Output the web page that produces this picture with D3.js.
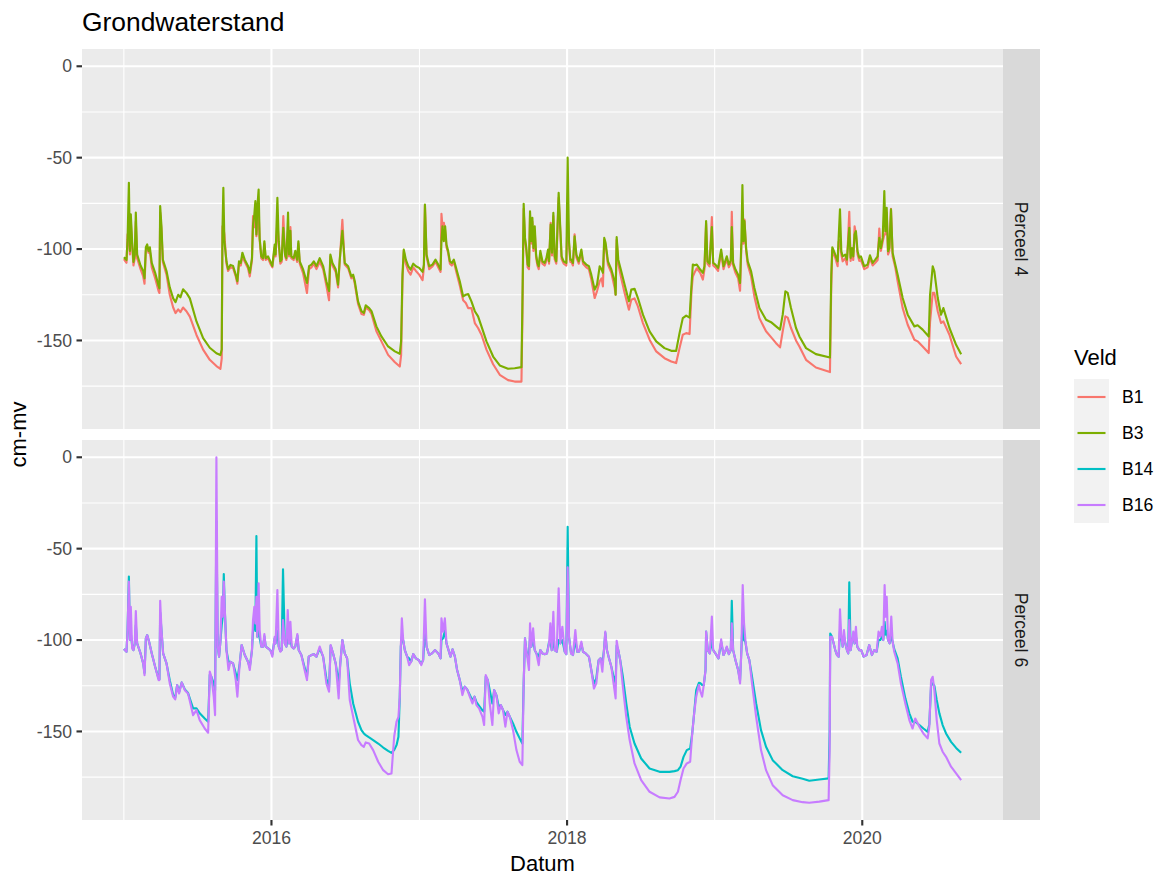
<!DOCTYPE html>
<html>
<head>
<meta charset="utf-8">
<script src="https://cdn.jsdelivr.net/npm/d3@7"></script>
<style>
  body { margin: 0; background: #ffffff; }
  svg { display: block; }
  text { font-family: "Liberation Sans", Arial, Helvetica, sans-serif; }
</style>
</head>
<body>
<svg id="chart" width="1161" height="876"></svg>
<script>
// Grondwaterstand (cm-mv) per veld, datum as decimal year
const b1 = [[2015.000,-105.5],[2015.018,-107.5],[2015.025,-92],[2015.034,-95],[2015.041,-103],[2015.047,-85],[2015.056,-98],[2015.065,-109],[2015.074,-105],[2015.081,-85],[2015.090,-105],[2015.113,-111],[2015.131,-115],[2015.140,-119],[2015.149,-101],[2015.158,-99],[2015.167,-102],[2015.176,-101],[2015.189,-110],[2015.212,-116],[2015.235,-123],[2015.241,-124],[2015.246,-80],[2015.255,-90],[2015.264,-107],[2015.289,-114],[2015.311,-125],[2015.334,-132],[2015.350,-135],[2015.368,-133],[2015.383,-134.5],[2015.401,-132],[2015.424,-134],[2015.447,-137],[2015.492,-147],[2015.537,-155],[2015.582,-160.6],[2015.627,-164],[2015.654,-165.5],[2015.663,-160],[2015.668,-87.5],[2015.674,-88],[2015.681,-92],[2015.695,-108],[2015.706,-112],[2015.722,-110],[2015.740,-110.5],[2015.758,-115],[2015.769,-119],[2015.780,-108],[2015.792,-109],[2015.803,-104],[2015.819,-107],[2015.841,-110.5],[2015.853,-115],[2015.868,-106],[2015.875,-82],[2015.884,-88],[2015.891,-80],[2015.898,-93],[2015.904,-88],[2015.913,-80],[2015.920,-95],[2015.931,-105],[2015.943,-106],[2015.952,-97],[2015.961,-106],[2015.977,-105],[2015.992,-108],[2016.006,-110],[2016.022,-99],[2016.028,-104],[2016.040,-85],[2016.049,-97],[2016.060,-108],[2016.069,-107],[2016.080,-82],[2016.092,-104],[2016.101,-106],[2016.112,-90],[2016.119,-104],[2016.128,-88],[2016.134,-105],[2016.150,-106],[2016.161,-102],[2016.173,-107],[2016.182,-97],[2016.191,-108],[2016.213,-113],[2016.240,-124],[2016.254,-111],[2016.270,-110],[2016.286,-108],[2016.304,-111],[2016.326,-107],[2016.349,-111],[2016.371,-120],[2016.389,-128],[2016.398,-104],[2016.412,-109],[2016.434,-112.5],[2016.450,-121],[2016.461,-107],[2016.479,-84],[2016.495,-108.5],[2016.518,-110.5],[2016.540,-116],[2016.552,-115],[2016.563,-119],[2016.585,-130],[2016.608,-135.5],[2016.624,-136],[2016.637,-132],[2016.660,-133.5],[2016.676,-135.5],[2016.709,-145],[2016.743,-150.5],[2016.788,-157.9],[2016.834,-161.9],[2016.867,-164.3],[2016.876,-158],[2016.885,-118],[2016.894,-101],[2016.908,-108],[2016.924,-112],[2016.940,-114],[2016.958,-110],[2016.976,-112],[2016.998,-114],[2017.021,-117],[2017.030,-110],[2017.037,-76],[2017.048,-104],[2017.066,-111],[2017.088,-109.5],[2017.109,-107],[2017.127,-110],[2017.143,-112.5],[2017.149,-80.7],[2017.156,-88],[2017.165,-85.6],[2017.174,-90],[2017.183,-99],[2017.194,-102],[2017.206,-108],[2017.219,-109],[2017.233,-107],[2017.251,-113],[2017.273,-120],[2017.296,-128],[2017.314,-129.5],[2017.330,-132.3],[2017.352,-132.3],[2017.375,-140.5],[2017.397,-143.2],[2017.420,-146.9],[2017.454,-155],[2017.499,-163],[2017.544,-168.8],[2017.600,-171.7],[2017.645,-172.5],[2017.691,-172.5],[2017.697,-140],[2017.706,-78],[2017.715,-95],[2017.724,-101],[2017.733,-110],[2017.742,-111],[2017.749,-82],[2017.758,-97],[2017.765,-85],[2017.772,-101],[2017.781,-90],[2017.790,-104.5],[2017.799,-109],[2017.808,-111],[2017.819,-102.5],[2017.833,-108],[2017.848,-109],[2017.860,-106.5],[2017.871,-102],[2017.878,-108],[2017.889,-85.6],[2017.898,-103.5],[2017.907,-82],[2017.916,-105.5],[2017.927,-108],[2017.943,-72],[2017.954,-90],[2017.963,-105.5],[2017.977,-108],[2017.995,-109],[2018.004,-80],[2018.013,-97],[2018.022,-107],[2018.029,-107],[2018.040,-109],[2018.051,-92],[2018.063,-104.5],[2018.079,-108],[2018.097,-101.5],[2018.108,-108],[2018.130,-110],[2018.148,-111],[2018.164,-116.5],[2018.187,-126.8],[2018.203,-123],[2018.221,-117.6],[2018.234,-116],[2018.243,-120.4],[2018.252,-95],[2018.261,-98],[2018.277,-108.5],[2018.300,-113],[2018.322,-121],[2018.329,-125],[2018.336,-95],[2018.347,-108],[2018.367,-116],[2018.390,-124],[2018.419,-133.2],[2018.435,-127.7],[2018.457,-127],[2018.480,-131.4],[2018.514,-140.5],[2018.559,-149.6],[2018.604,-156],[2018.660,-159.7],[2018.706,-161.5],[2018.739,-162.4],[2018.762,-154.2],[2018.784,-146.9],[2018.807,-146],[2018.830,-146.5],[2018.843,-123.1],[2018.852,-115],[2018.863,-113],[2018.879,-110.5],[2018.902,-113],[2018.920,-116.7],[2018.931,-111],[2018.942,-86],[2018.951,-108],[2018.965,-109.5],[2018.981,-82.5],[2018.990,-109],[2019.005,-110],[2019.023,-112],[2019.044,-102],[2019.060,-111],[2019.071,-108],[2019.082,-106],[2019.096,-110],[2019.109,-108],[2019.116,-79.6],[2019.125,-109],[2019.141,-113],[2019.159,-116],[2019.172,-122.8],[2019.181,-98],[2019.188,-96],[2019.195,-97],[2019.202,-83.8],[2019.213,-101],[2019.224,-108.5],[2019.247,-115],[2019.269,-125.9],[2019.303,-137.8],[2019.348,-145],[2019.382,-148.2],[2019.416,-151.5],[2019.443,-153.8],[2019.461,-145],[2019.479,-136.8],[2019.495,-137.5],[2019.517,-143.2],[2019.551,-150],[2019.574,-153.3],[2019.619,-160.6],[2019.686,-164.8],[2019.781,-167.3],[2019.790,-120],[2019.797,-100.5],[2019.808,-103],[2019.817,-104.8],[2019.833,-109.4],[2019.840,-96],[2019.849,-95],[2019.858,-103],[2019.867,-106.7],[2019.885,-105],[2019.896,-108.5],[2019.912,-79.6],[2019.921,-106.5],[2019.930,-101],[2019.939,-106],[2019.948,-87.5],[2019.957,-92],[2019.968,-103],[2019.980,-106.5],[2019.991,-106],[2020.013,-111],[2020.036,-110],[2020.052,-105],[2020.070,-109],[2020.088,-107.5],[2020.104,-106],[2020.115,-88.8],[2020.126,-101],[2020.138,-96],[2020.149,-92],[2020.156,-92],[2020.165,-80],[2020.174,-103],[2020.183,-101],[2020.194,-78],[2020.205,-104],[2020.223,-110],[2020.239,-117.6],[2020.273,-132.3],[2020.307,-141.4],[2020.352,-149.6],[2020.374,-150.5],[2020.408,-153.3],[2020.449,-156.9],[2020.458,-140],[2020.476,-124],[2020.487,-124],[2020.510,-134],[2020.532,-140.5],[2020.548,-139.6],[2020.589,-146.9],[2020.634,-158.8],[2020.668,-163]];

const b3 = [[2015.000,-104.5],[2015.018,-106],[2015.025,-95],[2015.034,-63.7],[2015.041,-101],[2015.047,-81],[2015.056,-96],[2015.065,-107],[2015.074,-103],[2015.081,-80],[2015.090,-103],[2015.113,-109],[2015.131,-112],[2015.140,-116],[2015.149,-99],[2015.158,-97.5],[2015.167,-101],[2015.176,-99],[2015.189,-107.6],[2015.212,-113],[2015.235,-120],[2015.241,-121.5],[2015.246,-76.5],[2015.255,-88],[2015.264,-105.8],[2015.289,-112],[2015.311,-121],[2015.334,-127],[2015.350,-129],[2015.368,-125],[2015.383,-126.4],[2015.401,-122],[2015.424,-124],[2015.447,-127],[2015.492,-139.6],[2015.537,-148.7],[2015.582,-154],[2015.627,-157],[2015.654,-158],[2015.663,-155],[2015.668,-90],[2015.674,-66.5],[2015.681,-95.7],[2015.695,-106.7],[2015.706,-111],[2015.722,-108.7],[2015.740,-109.3],[2015.758,-114],[2015.769,-117.6],[2015.780,-106.7],[2015.792,-107.6],[2015.803,-102],[2015.819,-105.8],[2015.841,-109.3],[2015.853,-113],[2015.868,-105],[2015.875,-86.6],[2015.884,-81],[2015.891,-73.8],[2015.898,-92],[2015.904,-77.5],[2015.913,-67.4],[2015.920,-94],[2015.931,-104],[2015.943,-105],[2015.952,-95.7],[2015.961,-105],[2015.977,-104],[2015.992,-106.7],[2016.006,-109.3],[2016.022,-97.5],[2016.028,-103],[2016.040,-71.9],[2016.049,-95.7],[2016.060,-106.7],[2016.069,-105.8],[2016.080,-88.4],[2016.092,-103],[2016.101,-105],[2016.112,-80],[2016.119,-103],[2016.128,-90],[2016.134,-104],[2016.150,-105],[2016.161,-101],[2016.173,-105.8],[2016.182,-95.7],[2016.191,-106.7],[2016.213,-111],[2016.240,-118.6],[2016.254,-109.3],[2016.270,-108.5],[2016.286,-106.7],[2016.304,-109.3],[2016.326,-105],[2016.349,-109.3],[2016.371,-117.6],[2016.389,-123],[2016.398,-103],[2016.412,-107.6],[2016.434,-111],[2016.450,-119.5],[2016.461,-106],[2016.479,-90],[2016.495,-107.6],[2016.518,-109.4],[2016.540,-115],[2016.552,-114],[2016.563,-117.6],[2016.585,-128.6],[2016.608,-134],[2016.624,-135],[2016.637,-130.8],[2016.660,-132.3],[2016.676,-134],[2016.709,-142.3],[2016.743,-147.8],[2016.788,-153.3],[2016.834,-156],[2016.867,-157.3],[2016.876,-150.5],[2016.885,-114],[2016.894,-100.3],[2016.908,-105.8],[2016.924,-109.4],[2016.940,-111.2],[2016.958,-108],[2016.976,-109.4],[2016.998,-110.3],[2017.021,-112.5],[2017.030,-108.5],[2017.037,-75.6],[2017.048,-103],[2017.066,-109.4],[2017.088,-108.5],[2017.109,-105.8],[2017.127,-108.5],[2017.143,-111.2],[2017.149,-95.7],[2017.156,-87.5],[2017.165,-95.7],[2017.174,-87.5],[2017.183,-97.5],[2017.194,-101],[2017.206,-106.7],[2017.219,-107.6],[2017.233,-105.8],[2017.251,-111.2],[2017.273,-117.6],[2017.296,-125.9],[2017.314,-125],[2017.330,-124.6],[2017.352,-128.6],[2017.375,-134],[2017.397,-136.8],[2017.420,-142.3],[2017.454,-150.5],[2017.499,-158.8],[2017.544,-163.7],[2017.600,-165.5],[2017.645,-165.2],[2017.691,-164.6],[2017.697,-132],[2017.706,-75.2],[2017.715,-93.9],[2017.724,-99.4],[2017.733,-108.5],[2017.742,-109.4],[2017.749,-79.3],[2017.758,-95.7],[2017.765,-82.9],[2017.772,-99.4],[2017.781,-87.5],[2017.790,-103],[2017.799,-107.6],[2017.808,-109.4],[2017.819,-101],[2017.833,-106.7],[2017.848,-107.6],[2017.860,-105],[2017.871,-100.3],[2017.878,-106.7],[2017.889,-86.6],[2017.898,-102],[2017.907,-80.2],[2017.916,-104],[2017.927,-106.7],[2017.943,-69.2],[2017.954,-88.4],[2017.963,-104],[2017.977,-106.7],[2017.995,-107.6],[2018.004,-50],[2018.013,-95.7],[2018.022,-105.8],[2018.029,-105.8],[2018.040,-107.6],[2018.051,-93],[2018.063,-103],[2018.079,-106.7],[2018.097,-100.3],[2018.108,-106.7],[2018.130,-108.5],[2018.148,-109.4],[2018.164,-114],[2018.187,-122.2],[2018.203,-119.5],[2018.221,-109.4],[2018.234,-111.2],[2018.243,-113],[2018.252,-93.9],[2018.261,-96.6],[2018.277,-106.7],[2018.300,-111.2],[2018.322,-117.6],[2018.329,-125],[2018.336,-93.5],[2018.347,-105.8],[2018.367,-112.2],[2018.390,-119.5],[2018.419,-128.6],[2018.435,-122.2],[2018.457,-121.7],[2018.480,-126.8],[2018.514,-135.9],[2018.559,-145],[2018.604,-150.5],[2018.660,-154.2],[2018.706,-155.7],[2018.739,-155.7],[2018.762,-146],[2018.784,-137.8],[2018.807,-136.4],[2018.830,-137.5],[2018.843,-119.5],[2018.852,-108.5],[2018.863,-108.9],[2018.879,-108.5],[2018.902,-111.2],[2018.920,-113],[2018.931,-109.4],[2018.942,-84.7],[2018.951,-106.7],[2018.965,-108],[2018.981,-88],[2018.990,-107.6],[2019.005,-108.5],[2019.023,-110.3],[2019.044,-100.3],[2019.060,-109.4],[2019.071,-106.7],[2019.082,-104],[2019.096,-108.5],[2019.109,-106.3],[2019.116,-88],[2019.125,-107.6],[2019.141,-111.2],[2019.159,-114],[2019.172,-118.6],[2019.181,-95.7],[2019.188,-65],[2019.195,-95.7],[2019.202,-84.7],[2019.213,-99.4],[2019.224,-106.7],[2019.247,-112.2],[2019.269,-121.3],[2019.303,-132.3],[2019.348,-138.7],[2019.382,-140],[2019.416,-142.3],[2019.443,-144.1],[2019.461,-135.9],[2019.479,-123.1],[2019.495,-124],[2019.517,-132.3],[2019.551,-143.2],[2019.574,-147.8],[2019.619,-154.2],[2019.686,-157.5],[2019.781,-159.3],[2019.790,-114],[2019.797,-99],[2019.808,-101.2],[2019.817,-103],[2019.833,-106.7],[2019.840,-93.9],[2019.849,-78.3],[2019.858,-101.2],[2019.867,-104],[2019.885,-103],[2019.896,-105.8],[2019.912,-88.4],[2019.921,-104.8],[2019.930,-99.4],[2019.939,-104],[2019.948,-92],[2019.957,-90.2],[2019.968,-101.2],[2019.980,-104.8],[2019.991,-104],[2020.013,-109.4],[2020.036,-108.5],[2020.052,-103.4],[2020.070,-107.6],[2020.088,-105.8],[2020.104,-104],[2020.115,-93.9],[2020.126,-99.4],[2020.138,-93.9],[2020.149,-68.3],[2020.156,-90.2],[2020.165,-77.4],[2020.174,-101.2],[2020.183,-99.4],[2020.194,-78.3],[2020.205,-102],[2020.223,-108.5],[2020.239,-114],[2020.273,-126.8],[2020.307,-135.9],[2020.352,-142.3],[2020.374,-141.7],[2020.408,-144.1],[2020.449,-147.8],[2020.458,-125],[2020.476,-109.4],[2020.487,-112.2],[2020.510,-126.8],[2020.532,-135.9],[2020.548,-132.3],[2020.589,-143.2],[2020.634,-152.4],[2020.668,-157.5]];

const b14 = [[2015.000,-104.9],[2015.018,-106.4],[2015.025,-94.5],[2015.034,-65.3],[2015.041,-100],[2015.047,-96],[2015.056,-103],[2015.065,-105.5],[2015.074,-101.8],[2015.081,-92],[2015.090,-101.8],[2015.113,-107.3],[2015.131,-112.8],[2015.140,-118],[2015.149,-99.1],[2015.158,-97.3],[2015.171,-100.9],[2015.189,-107.3],[2015.212,-114.6],[2015.235,-121],[2015.241,-121.5],[2015.246,-85],[2015.255,-95],[2015.266,-107.3],[2015.289,-112.8],[2015.311,-122],[2015.334,-130],[2015.348,-131.5],[2015.361,-124.6],[2015.374,-128.5],[2015.392,-123.2],[2015.413,-127],[2015.435,-129],[2015.451,-133],[2015.469,-137.4],[2015.492,-137.4],[2015.514,-140.1],[2015.548,-142.9],[2015.571,-144.7],[2015.582,-119],[2015.593,-120.1],[2015.609,-123.7],[2015.618,-127.4],[2015.627,-35],[2015.636,-103.6],[2015.645,-109.1],[2015.654,-100.9],[2015.663,-91.8],[2015.670,-87.2],[2015.677,-63.9],[2015.684,-83.6],[2015.695,-105.5],[2015.709,-111.9],[2015.722,-111.9],[2015.740,-112.8],[2015.758,-118.2],[2015.769,-121.9],[2015.785,-112.8],[2015.798,-102.7],[2015.819,-108.2],[2015.841,-111.9],[2015.853,-115],[2015.868,-105.5],[2015.875,-95],[2015.884,-88],[2015.891,-95],[2015.898,-43.1],[2015.904,-98.2],[2015.913,-95],[2015.920,-99],[2015.931,-103.6],[2015.943,-103.6],[2015.952,-98],[2015.961,-103.6],[2015.977,-104.6],[2015.992,-105.5],[2016.006,-108],[2016.022,-99],[2016.028,-101.8],[2016.040,-95],[2016.049,-103.6],[2016.060,-106],[2016.069,-105.5],[2016.078,-61.3],[2016.090,-101.8],[2016.101,-103.6],[2016.110,-98],[2016.119,-101.8],[2016.128,-100],[2016.137,-103.6],[2016.150,-104.6],[2016.161,-103.6],[2016.175,-97.5],[2016.184,-105.5],[2016.202,-108.2],[2016.224,-115],[2016.240,-120],[2016.252,-109.1],[2016.270,-108.2],[2016.286,-107.7],[2016.304,-109.1],[2016.326,-104.5],[2016.349,-109.1],[2016.371,-121],[2016.389,-126],[2016.400,-103],[2016.416,-107.3],[2016.434,-112.8],[2016.454,-123.7],[2016.465,-112.8],[2016.479,-100],[2016.495,-107.3],[2016.511,-110],[2016.529,-123.7],[2016.552,-134.7],[2016.585,-144.7],[2016.608,-149.3],[2016.624,-151.1],[2016.637,-152],[2016.660,-153.3],[2016.687,-154.7],[2016.721,-156.6],[2016.755,-158.8],[2016.788,-160.6],[2016.811,-161.7],[2016.829,-160.2],[2016.845,-157.5],[2016.858,-152.9],[2016.867,-131],[2016.874,-103.6],[2016.881,-98.2],[2016.890,-100],[2016.901,-105.5],[2016.917,-109.1],[2016.930,-110],[2016.944,-111.9],[2016.958,-107.7],[2016.976,-110],[2016.994,-110.9],[2017.012,-113],[2017.025,-110.9],[2017.037,-95],[2017.048,-103.6],[2017.066,-108.2],[2017.084,-107.3],[2017.106,-105.5],[2017.127,-107.3],[2017.143,-110],[2017.149,-100],[2017.160,-99],[2017.172,-95],[2017.183,-101.8],[2017.197,-105.5],[2017.210,-109.1],[2017.224,-105.1],[2017.240,-109.1],[2017.255,-116.4],[2017.273,-121.9],[2017.291,-128],[2017.307,-125.5],[2017.323,-127],[2017.341,-130],[2017.359,-133],[2017.373,-131],[2017.386,-134],[2017.404,-136],[2017.427,-138.5],[2017.438,-139.2],[2017.449,-120],[2017.463,-121.9],[2017.476,-127.4],[2017.494,-134.7],[2017.506,-127.4],[2017.521,-130.1],[2017.537,-136.5],[2017.551,-135.6],[2017.566,-138.3],[2017.582,-141],[2017.596,-139.2],[2017.612,-142],[2017.634,-145.6],[2017.657,-150.2],[2017.679,-153.8],[2017.697,-156.6],[2017.706,-123.7],[2017.715,-99.1],[2017.724,-105.5],[2017.736,-110],[2017.742,-108],[2017.749,-98],[2017.758,-103.6],[2017.770,-100],[2017.781,-105.5],[2017.792,-107.3],[2017.808,-109],[2017.819,-105.5],[2017.833,-107.3],[2017.848,-107.7],[2017.864,-107.3],[2017.878,-101],[2017.887,-101],[2017.896,-105.5],[2017.907,-100],[2017.916,-105.5],[2017.930,-106.4],[2017.943,-100],[2017.954,-101.8],[2017.968,-100],[2017.984,-106.4],[2017.995,-107.7],[2018.004,-38],[2018.013,-98.2],[2018.027,-107.3],[2018.040,-108.2],[2018.056,-100],[2018.069,-106.4],[2018.081,-106.4],[2018.097,-102],[2018.108,-106.4],[2018.126,-107.3],[2018.148,-109.1],[2018.164,-116.4],[2018.182,-124],[2018.198,-121],[2018.214,-111],[2018.227,-110],[2018.239,-113],[2018.250,-105.5],[2018.259,-96],[2018.270,-105.5],[2018.284,-110],[2018.300,-114.6],[2018.315,-120],[2018.329,-123.7],[2018.336,-103],[2018.347,-105.5],[2018.360,-111],[2018.378,-120.1],[2018.401,-134.7],[2018.424,-147.4],[2018.457,-156.6],[2018.502,-164.8],[2018.559,-170.3],[2018.627,-172.1],[2018.694,-172.1],[2018.728,-171.7],[2018.751,-171.2],[2018.769,-169.3],[2018.789,-163.9],[2018.811,-160.2],[2018.834,-159.3],[2018.848,-151],[2018.861,-140],[2018.875,-127.4],[2018.893,-123.4],[2018.904,-123.7],[2018.915,-124.6],[2018.926,-124.6],[2018.938,-116.4],[2018.942,-95.4],[2018.953,-105.5],[2018.967,-107.3],[2018.981,-100],[2018.990,-105.5],[2019.005,-107.3],[2019.026,-110],[2019.044,-101],[2019.060,-108.2],[2019.071,-106.4],[2019.082,-104],[2019.096,-107.7],[2019.109,-105.5],[2019.116,-78.5],[2019.125,-105.5],[2019.141,-111],[2019.159,-116.4],[2019.172,-122],[2019.181,-105.5],[2019.190,-88],[2019.199,-100],[2019.208,-101],[2019.220,-107.3],[2019.235,-111],[2019.253,-120.1],[2019.281,-134.7],[2019.314,-149.3],[2019.348,-158.4],[2019.393,-165.7],[2019.461,-171.2],[2019.529,-174.5],[2019.596,-175.9],[2019.641,-177],[2019.709,-176.3],[2019.772,-175.7],[2019.779,-150],[2019.783,-96.4],[2019.795,-98.2],[2019.806,-101.8],[2019.817,-105.5],[2019.829,-108.2],[2019.840,-109.1],[2019.849,-95],[2019.858,-98.2],[2019.867,-103.6],[2019.876,-98],[2019.885,-101.8],[2019.896,-105.5],[2019.905,-107.3],[2019.912,-68.4],[2019.921,-105.5],[2019.930,-100.9],[2019.939,-98],[2019.948,-101.8],[2019.957,-98],[2019.966,-103.6],[2019.980,-105.5],[2019.993,-105.5],[2020.009,-109.1],[2020.029,-108.2],[2020.047,-102.7],[2020.065,-108.2],[2020.081,-105.5],[2020.097,-106.4],[2020.110,-100],[2020.122,-100],[2020.133,-98],[2020.142,-100],[2020.151,-90],[2020.158,-97],[2020.165,-95],[2020.174,-100],[2020.185,-101.8],[2020.196,-98],[2020.205,-100.9],[2020.216,-105],[2020.239,-110],[2020.261,-120.1],[2020.291,-131.9],[2020.318,-140.1],[2020.340,-144.7],[2020.358,-144.7],[2020.386,-146.5],[2020.413,-148.4],[2020.442,-150.2],[2020.453,-146],[2020.465,-125],[2020.476,-123.7],[2020.487,-125],[2020.503,-132.8],[2020.521,-140.1],[2020.543,-146.5],[2020.566,-151.1],[2020.600,-155.7],[2020.634,-159],[2020.668,-161.7]];

const b16 = [[2015.000,-104.9],[2015.018,-106.4],[2015.025,-94.5],[2015.034,-68],[2015.041,-100],[2015.047,-81.8],[2015.056,-104.6],[2015.065,-105.5],[2015.074,-101.8],[2015.081,-84.1],[2015.090,-101.8],[2015.113,-107.3],[2015.131,-112.8],[2015.140,-119.2],[2015.149,-99.1],[2015.158,-97.3],[2015.171,-100.9],[2015.189,-107.3],[2015.212,-114.6],[2015.235,-121.9],[2015.241,-121.9],[2015.246,-78.5],[2015.255,-94.5],[2015.266,-107.3],[2015.289,-112.8],[2015.311,-123.7],[2015.334,-131],[2015.348,-132.5],[2015.361,-124.6],[2015.374,-129.2],[2015.392,-123.2],[2015.413,-127.4],[2015.435,-129.2],[2015.451,-134.7],[2015.469,-141.1],[2015.492,-138.3],[2015.514,-143.8],[2015.548,-148.4],[2015.571,-150.7],[2015.582,-117.3],[2015.593,-120.1],[2015.609,-131],[2015.618,-141.1],[2015.627,0],[2015.636,-103.6],[2015.645,-109.1],[2015.654,-100.9],[2015.663,-76.3],[2015.670,-87.2],[2015.677,-68],[2015.684,-83.6],[2015.695,-105.5],[2015.709,-116.4],[2015.722,-111.9],[2015.740,-112.8],[2015.758,-121.9],[2015.769,-131],[2015.785,-112.8],[2015.798,-102.7],[2015.819,-108.2],[2015.841,-111.9],[2015.853,-116.4],[2015.868,-105.5],[2015.875,-89.1],[2015.884,-81.8],[2015.891,-90.9],[2015.898,-76.3],[2015.904,-98.2],[2015.913,-69],[2015.920,-94.5],[2015.931,-103.6],[2015.943,-103.6],[2015.952,-96.7],[2015.961,-103.6],[2015.977,-104.6],[2015.992,-105.5],[2016.006,-109.1],[2016.022,-98.2],[2016.028,-101.8],[2016.040,-72.6],[2016.049,-103.6],[2016.060,-106.4],[2016.069,-105.5],[2016.078,-89.1],[2016.090,-101.8],[2016.101,-103.6],[2016.110,-83.6],[2016.119,-101.8],[2016.128,-90],[2016.137,-103.6],[2016.150,-104.6],[2016.161,-103.6],[2016.175,-96.7],[2016.184,-105.5],[2016.202,-108.2],[2016.224,-116.4],[2016.240,-121.9],[2016.252,-109.1],[2016.270,-108.2],[2016.286,-107.7],[2016.304,-109.1],[2016.326,-103.6],[2016.349,-109.1],[2016.371,-123.7],[2016.389,-128.3],[2016.400,-102.7],[2016.416,-107.3],[2016.434,-112.8],[2016.454,-131.9],[2016.465,-112.8],[2016.479,-100],[2016.495,-107.3],[2016.511,-110],[2016.529,-132.8],[2016.552,-142],[2016.585,-154.7],[2016.608,-157.5],[2016.624,-158.4],[2016.637,-156],[2016.660,-156.6],[2016.687,-160.2],[2016.721,-166.6],[2016.755,-171.2],[2016.788,-173.4],[2016.811,-173],[2016.829,-152.9],[2016.845,-144.7],[2016.858,-142],[2016.867,-131],[2016.874,-103.6],[2016.881,-88.1],[2016.890,-100],[2016.901,-105.5],[2016.917,-109.1],[2016.930,-113.7],[2016.944,-111.9],[2016.958,-107.7],[2016.976,-110],[2016.994,-110.9],[2017.012,-113.7],[2017.025,-110.9],[2017.037,-77.7],[2017.048,-103.6],[2017.066,-108.2],[2017.084,-107.3],[2017.106,-105.5],[2017.127,-107.3],[2017.143,-110],[2017.149,-88.1],[2017.160,-95.4],[2017.172,-88.1],[2017.183,-101.8],[2017.197,-105.5],[2017.210,-109.1],[2017.224,-105.1],[2017.240,-109.1],[2017.255,-116.4],[2017.273,-121.9],[2017.291,-130.1],[2017.307,-125.5],[2017.323,-127],[2017.341,-131],[2017.359,-134.7],[2017.373,-131],[2017.386,-135.6],[2017.404,-137.4],[2017.427,-142],[2017.438,-146.5],[2017.449,-119.2],[2017.463,-121.9],[2017.476,-134.7],[2017.494,-146.5],[2017.506,-127.4],[2017.521,-130.1],[2017.537,-140.1],[2017.551,-135.6],[2017.566,-138.3],[2017.582,-147.4],[2017.596,-139.2],[2017.612,-142],[2017.634,-149.3],[2017.657,-160.2],[2017.679,-166.6],[2017.697,-168.4],[2017.706,-123.7],[2017.715,-99.1],[2017.724,-105.5],[2017.736,-112.8],[2017.742,-116.4],[2017.749,-90.9],[2017.758,-103.6],[2017.770,-93.6],[2017.781,-105.5],[2017.792,-107.3],[2017.808,-113.7],[2017.819,-105.5],[2017.833,-107.3],[2017.848,-107.7],[2017.864,-107.3],[2017.878,-101.8],[2017.887,-90.9],[2017.896,-105.5],[2017.907,-84.5],[2017.916,-105.5],[2017.930,-106.4],[2017.943,-71.7],[2017.954,-101.8],[2017.968,-92.7],[2017.984,-106.4],[2017.995,-107.7],[2018.004,-60.2],[2018.013,-98.2],[2018.027,-107.3],[2018.040,-108.2],[2018.056,-94.5],[2018.069,-106.4],[2018.081,-106.4],[2018.097,-100.9],[2018.108,-106.4],[2018.126,-107.3],[2018.148,-109.1],[2018.164,-116.4],[2018.182,-126.5],[2018.198,-123.7],[2018.214,-111],[2018.227,-110],[2018.239,-117.3],[2018.250,-105.5],[2018.259,-95.4],[2018.270,-105.5],[2018.284,-110],[2018.300,-114.6],[2018.315,-123.7],[2018.329,-131.9],[2018.336,-100.4],[2018.347,-105.5],[2018.360,-111],[2018.378,-125.5],[2018.401,-142],[2018.424,-154.7],[2018.457,-167.5],[2018.502,-176.6],[2018.559,-183],[2018.627,-186.1],[2018.694,-186.7],[2018.728,-185.8],[2018.751,-183],[2018.769,-176.6],[2018.789,-170.3],[2018.811,-167.5],[2018.834,-166.6],[2018.848,-151.1],[2018.861,-140.1],[2018.875,-131],[2018.893,-124.6],[2018.904,-128.3],[2018.915,-131],[2018.926,-124.6],[2018.938,-116.4],[2018.942,-95.4],[2018.953,-105.5],[2018.967,-107.3],[2018.981,-87.2],[2018.990,-105.5],[2019.005,-107.3],[2019.026,-110],[2019.044,-99.6],[2019.060,-108.2],[2019.071,-106.4],[2019.082,-103.6],[2019.096,-107.7],[2019.109,-105.5],[2019.116,-90.9],[2019.125,-105.5],[2019.141,-111],[2019.159,-116.4],[2019.172,-123.7],[2019.181,-105.5],[2019.190,-69.9],[2019.199,-90.9],[2019.208,-100],[2019.220,-107.3],[2019.235,-111],[2019.253,-123.7],[2019.281,-142],[2019.314,-160.2],[2019.348,-171.2],[2019.393,-179.4],[2019.461,-184.9],[2019.529,-187.6],[2019.596,-188.7],[2019.641,-189],[2019.709,-188.4],[2019.772,-187.6],[2019.779,-160],[2019.783,-98.2],[2019.795,-98.2],[2019.806,-101.8],[2019.817,-105.5],[2019.829,-108.2],[2019.840,-109.1],[2019.849,-83.2],[2019.858,-98.2],[2019.867,-103.6],[2019.876,-94.5],[2019.885,-101.8],[2019.896,-105.5],[2019.905,-107.3],[2019.912,-89.1],[2019.921,-105.5],[2019.930,-100.9],[2019.939,-95.4],[2019.948,-101.8],[2019.957,-92.7],[2019.966,-103.6],[2019.980,-105.5],[2019.993,-105.5],[2020.009,-109.1],[2020.029,-108.2],[2020.047,-102.7],[2020.065,-108.2],[2020.081,-105.5],[2020.097,-106.4],[2020.110,-95.4],[2020.122,-98.2],[2020.133,-92.7],[2020.142,-100],[2020.151,-69.9],[2020.158,-87.2],[2020.165,-76.3],[2020.174,-100],[2020.185,-101.8],[2020.196,-87.2],[2020.205,-100.9],[2020.216,-106.4],[2020.239,-112.8],[2020.261,-123.7],[2020.291,-134.7],[2020.318,-143.8],[2020.340,-148.4],[2020.358,-142.9],[2020.386,-147.4],[2020.413,-151.1],[2020.442,-153.8],[2020.453,-147.4],[2020.465,-121.9],[2020.476,-120.1],[2020.487,-127.4],[2020.503,-143.8],[2020.521,-156.6],[2020.543,-161.1],[2020.566,-163.9],[2020.600,-169.3],[2020.634,-173],[2020.668,-176.6]];

const velden = ["B1", "B3", "B14", "B16"];
const kleuren = ["#F8766D", "#7CAE00", "#00BFC4", "#C77CFF"];
const percelen = ["Perceel 4", "Perceel 6"];
const veldPerceel = [0, 0, 1, 1];
const yTicks = [0, -50, -100, -150];
const yMinorTicks = [-25, -75, -125, -175];
const xTickYears = [2016, 2018, 2020];
const xMinorYears = [2015, 2017, 2019];

// decimal year -> Date (UTC)
function toDate(t) {
  const y = Math.floor(t);
  const a = Date.UTC(y, 0, 1), b = Date.UTC(y + 1, 0, 1);
  return new Date(a + (t - y) * (b - a));
}

const reeksen = [b1, b3, b14, b16].map((vals, i) => ({
  veld: velden[i], kleur: kleuren[i], perceel: veldPerceel[i],
  punten: vals.map(d => ({ datum: toDate(d[0]), waarde: d[1] }))
}));

const svg = d3.select("#chart");
const W = 1161, H = 876;
svg.append("rect").attr("width", W).attr("height", H).attr("fill", "#ffffff");

// panel geometry
const pLeft = 82, pRight = 1003, stripW = 37;
const panels = [{ top: 49, bottom: 429 }, { top: 440, bottom: 820 }];

// scales with 5% padding on both sides
const alle = reeksen.flatMap(r => r.punten);
const tExt = d3.extent(alle, d => +d.datum);
const tPad = (tExt[1] - tExt[0]) * 0.05;
const x = d3.scaleUtc()
  .domain([new Date(tExt[0] - tPad), new Date(tExt[1] + tPad)])
  .range([pLeft, pRight]);
const vExt = d3.extent(alle, d => d.waarde);
const vPad = (vExt[1] - vExt[0]) * 0.05;
const yScales = panels.map(p => d3.scaleLinear()
  .domain([vExt[0] - vPad, vExt[1] + vPad])
  .range([p.bottom, p.top]));

const tickFont = 17.6, tickColor = "#4D4D4D";

panels.forEach((p, pi) => {
  const y = yScales[pi];
  const g = svg.append("g");
  g.append("rect").attr("x", pLeft).attr("y", p.top)
    .attr("width", pRight - pLeft).attr("height", p.bottom - p.top)
    .attr("fill", "#EBEBEB");

  // minor grid
  g.selectAll(".ymin").data(yMinorTicks).join("line")
    .attr("x1", pLeft).attr("x2", pRight)
    .attr("y1", d => y(d)).attr("y2", d => y(d))
    .attr("stroke", "#ffffff").attr("stroke-width", 1.07);
  g.selectAll(".xmin").data(xMinorYears).join("line")
    .attr("x1", d => x(toDate(d))).attr("x2", d => x(toDate(d)))
    .attr("y1", p.top).attr("y2", p.bottom)
    .attr("stroke", "#ffffff").attr("stroke-width", 1.07);
  // major grid
  g.selectAll(".ymaj").data(yTicks).join("line")
    .attr("x1", pLeft).attr("x2", pRight)
    .attr("y1", d => y(d)).attr("y2", d => y(d))
    .attr("stroke", "#ffffff").attr("stroke-width", 2.13);
  g.selectAll(".xmaj").data(xTickYears).join("line")
    .attr("x1", d => x(toDate(d))).attr("x2", d => x(toDate(d)))
    .attr("y1", p.top).attr("y2", p.bottom)
    .attr("stroke", "#ffffff").attr("stroke-width", 2.13);

  // series lines
  const line = d3.line().x(d => x(d.datum)).y(d => y(d.waarde));
  reeksen.filter(r => r.perceel === pi).forEach(r => {
    g.append("path").datum(r.punten)
      .attr("d", line)
      .attr("fill", "none")
      .attr("stroke", r.kleur)
      .attr("stroke-width", 2.13)
      .attr("stroke-linejoin", "round");
  });

  // strip
  g.append("rect").attr("x", pRight).attr("y", p.top)
    .attr("width", stripW).attr("height", p.bottom - p.top)
    .attr("fill", "#D9D9D9");
  g.append("text")
    .attr("transform", `translate(${pRight + stripW / 2},${(p.top + p.bottom) / 2}) rotate(90)`)
    .attr("text-anchor", "middle").attr("dy", "0.35em")
    .attr("font-size", tickFont).attr("fill", "#1A1A1A")
    .text(percelen[pi]);

  // y axis
  const ya = g.append("g");
  ya.selectAll("line").data(yTicks).join("line")
    .attr("x1", pLeft - 5.5).attr("x2", pLeft)
    .attr("y1", d => y(d)).attr("y2", d => y(d))
    .attr("stroke", "#333333").attr("stroke-width", 2.13);
  ya.selectAll("text").data(yTicks).join("text")
    .attr("x", pLeft - 10).attr("y", d => y(d)).attr("dy", "0.35em")
    .attr("text-anchor", "end").attr("font-size", tickFont).attr("fill", tickColor)
    .text(d => d3.format("d")(d).replace("−", "-"));
});

// x axis under the last panel
const pb = panels[panels.length - 1].bottom;
const xa = svg.append("g");
xa.selectAll("line").data(xTickYears).join("line")
  .attr("x1", d => x(toDate(d))).attr("x2", d => x(toDate(d)))
  .attr("y1", pb).attr("y2", pb + 5.5)
  .attr("stroke", "#333333").attr("stroke-width", 2.13);
xa.selectAll("text").data(xTickYears).join("text")
  .attr("x", d => x(toDate(d))).attr("y", 844)
  .attr("text-anchor", "middle").attr("font-size", tickFont).attr("fill", tickColor)
  .text(d => String(d));

// titles
svg.append("text").attr("x", pLeft).attr("y", 31)
  .attr("font-size", 26.4).attr("fill", "#000000").text("Grondwaterstand");
svg.append("text").attr("x", (pLeft + pRight) / 2).attr("y", 871)
  .attr("text-anchor", "middle").attr("font-size", 22).attr("fill", "#000000").text("Datum");
svg.append("text")
  .attr("transform", `translate(26,${(panels[0].top + pb) / 2}) rotate(-90)`)
  .attr("text-anchor", "middle").attr("font-size", 22).attr("fill", "#000000").text("cm-mv");

// legend
const lg = svg.append("g").attr("transform", "translate(1074,0)");
lg.append("text").attr("x", 0).attr("y", 365).attr("font-size", 22).attr("fill", "#000000").text("Veld");
const keyTop = 379, keyH = 36, keyW = 35;
const items = lg.selectAll("g.item").data(reeksen).join("g")
  .attr("transform", (d, i) => `translate(0,${keyTop + i * keyH})`);
items.append("rect").attr("width", keyW).attr("height", keyH).attr("fill", "#F2F2F2");
items.append("line").attr("x1", 3.5).attr("x2", keyW - 3.5)
  .attr("y1", keyH / 2).attr("y2", keyH / 2)
  .attr("stroke", d => d.kleur).attr("stroke-width", 2.13);
items.append("text").attr("x", 48).attr("y", keyH / 2).attr("dy", "0.35em")
  .attr("font-size", tickFont).attr("fill", "#000000").text(d => d.veld);
</script>
</body>
</html>
